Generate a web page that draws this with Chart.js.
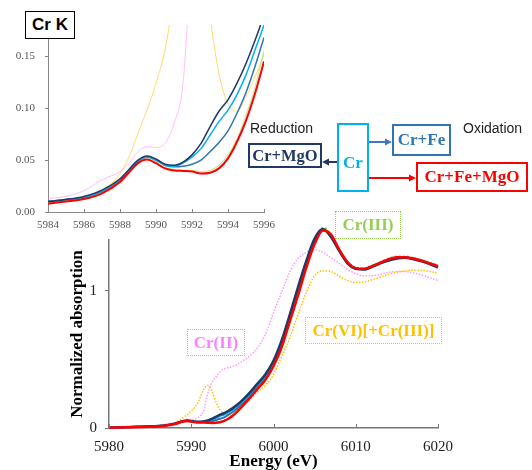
<!DOCTYPE html>
<html>
<head>
<meta charset="utf-8">
<script src="https://cdn.jsdelivr.net/npm/chart.js@4.4.1/dist/chart.umd.min.js"></script>
<style>
  body { margin: 0; width: 532px; height: 470px; position: relative; background: #fff; overflow: hidden; }
  canvas { position: absolute; left: 0; top: 0; }
  .box { position: absolute; box-sizing: border-box; display: flex; align-items: center; justify-content: center;
         font-family: "Liberation Serif", serif; font-weight: bold; font-size: 17px; background: transparent; white-space: nowrap; }
  .txt { position: absolute; font-family: "Liberation Sans", Arial, sans-serif; font-size: 14px; color: #222; }
</style>
</head>
<body>
<canvas id="main" width="532" height="470"></canvas>
<canvas id="inset" width="290" height="236"></canvas>

<svg width="532" height="470" style="position:absolute;left:0;top:0">
  <line x1="337" y1="162" x2="328" y2="162" stroke="#203864" stroke-width="2"/>
  <polygon points="322,162 329,158.5 329,165.5" fill="#203864"/>
  <line x1="369" y1="142" x2="386" y2="142" stroke="#4472c4" stroke-width="2"/>
  <polygon points="392,142 385,138.5 385,145.5" fill="#4472c4"/>
  <line x1="369" y1="178" x2="410" y2="178" stroke="#ff0000" stroke-width="2"/>
  <polygon points="416,178 409,174.5 409,181.5" fill="#ff0000"/>
</svg>

<div class="box" style="left:25px;top:11px;width:50px;height:28px;border:1.5px solid #000;background:#fff;font-family:'Liberation Sans',Arial,sans-serif;font-size:17px;">Cr K</div>
<div class="txt" style="left:250px;top:120px;">Reduction</div>
<div class="txt" style="left:463px;top:120px;">Oxidation</div>
<div class="box" style="left:248px;top:143px;width:74px;height:25px;border:2px solid #203864;color:#203864;font-size:16.5px;">Cr+MgO</div>
<div class="box" style="left:337px;top:123px;width:32px;height:69px;border:2px solid #00b0f0;color:#00b0f0;padding-top:10px;">Cr</div>
<div class="box" style="left:392px;top:124px;width:59px;height:32px;border:2px solid #2e75b6;color:#2e75b6;">Cr+Fe</div>
<div class="box" style="left:416px;top:162px;width:112px;height:30px;border:2px solid #ff0000;color:#ff0000;">Cr+Fe+MgO</div>
<div class="box" style="left:335px;top:211px;width:66px;height:28px;border:1.5px dotted #92d050;color:#92d050;">Cr(III)</div>
<div class="box" style="left:305px;top:317px;width:137px;height:27px;border:1.5px dotted #ffc000;color:#ffc000;">Cr(VI)[+Cr(III)]</div>
<div class="box" style="left:187px;top:329px;width:58px;height:27px;border:1.5px dotted #ff88ff;color:#ff80ff;">Cr(II)</div>

<script>
// energia (eV)
const energy = [5980, 5982, 5984, 5985, 5986, 5987, 5988, 5988.5, 5989, 5989.5, 5990, 5990.5, 5991, 5991.5,
  5992, 5992.5, 5993, 5993.5, 5994, 5994.5, 5995, 5995.5, 5996, 5997, 5998, 5999, 6000, 6001, 6002, 6003,
  6004, 6005, 6006, 6007, 6008, 6009, 6010, 6011, 6012, 6013, 6014, 6015, 6016, 6017, 6018, 6019, 6020];

const crMgO = [0.003, 0.006, 0.010, 0.012, 0.015, 0.021, 0.032, 0.041, 0.050, 0.054, 0.051, 0.046, 0.045, 0.048,
  0.055, 0.066, 0.082, 0.097, 0.108, 0.124, 0.143, 0.165, 0.19, 0.25, 0.32, 0.39, 0.49, 0.64, 0.83, 1.03,
  1.22, 1.38, 1.45, 1.39, 1.29, 1.2, 1.16, 1.155, 1.175, 1.2, 1.22, 1.235, 1.24, 1.23, 1.215, 1.195, 1.17];
const cr = [0.003, 0.006, 0.010, 0.012, 0.014, 0.020, 0.031, 0.040, 0.049, 0.053, 0.050, 0.045, 0.044, 0.047,
  0.053, 0.061, 0.074, 0.087, 0.098, 0.113, 0.132, 0.156, 0.18, 0.235, 0.305, 0.375, 0.475, 0.625, 0.82, 1.02,
  1.21, 1.375, 1.45, 1.395, 1.29, 1.2, 1.16, 1.157, 1.178, 1.203, 1.225, 1.238, 1.242, 1.233, 1.218, 1.198, 1.173];
const crFe = [0.003, 0.006, 0.010, 0.012, 0.014, 0.020, 0.031, 0.040, 0.049, 0.053, 0.050, 0.045, 0.0435, 0.044,
  0.046, 0.050, 0.058, 0.067, 0.078, 0.095, 0.115, 0.14, 0.168, 0.225, 0.295, 0.365, 0.465, 0.61, 0.8, 1.0,
  1.19, 1.36, 1.445, 1.4, 1.295, 1.205, 1.163, 1.158, 1.18, 1.205, 1.228, 1.242, 1.244, 1.235, 1.22, 1.2, 1.176];
const crFeMgO = [0.002, 0.005, 0.008, 0.010, 0.0125, 0.018, 0.029, 0.038, 0.047, 0.0505, 0.047, 0.042, 0.040, 0.0395,
  0.039, 0.037, 0.0378, 0.042, 0.0516, 0.0676, 0.088, 0.114, 0.145, 0.21, 0.28, 0.35, 0.45, 0.59, 0.78, 0.97,
  1.17, 1.34, 1.44, 1.41, 1.3, 1.21, 1.165, 1.16, 1.18, 1.205, 1.23, 1.245, 1.245, 1.235, 1.22, 1.2, 1.18];
const cr3 = [0.003, 0.006, 0.009, 0.011, 0.013, 0.019, 0.030, 0.039, 0.048, 0.052, 0.048, 0.043, 0.041, 0.040,
  0.040, 0.039, 0.040, 0.045, 0.055, 0.070, 0.093, 0.12, 0.155, 0.22, 0.29, 0.36, 0.46, 0.6, 0.79, 0.99,
  1.18, 1.36, 1.46, 1.41, 1.3, 1.21, 1.17, 1.165, 1.185, 1.21, 1.235, 1.25, 1.25, 1.24, 1.225, 1.205, 1.185];
const cr2 = [0.006, 0.010, 0.013, 0.015, 0.0205, 0.031, 0.039, 0.047, 0.058, 0.063, 0.062, 0.066, 0.085, 0.124,
  0.25, 0.33, 0.37, 0.41, 0.43, 0.44, 0.447, 0.46, 0.48, 0.52, 0.58, 0.68, 0.84, 0.99, 1.14, 1.235,
  1.28, 1.3, 1.28, 1.24, 1.2, 1.155, 1.125, 1.11, 1.11, 1.12, 1.135, 1.14, 1.14, 1.13, 1.115, 1.095, 1.075];
const cr6 = [0.004, 0.006, 0.009, 0.011, 0.014, 0.020, 0.037, 0.053, 0.076, 0.098, 0.124, 0.156, 0.21, 0.28,
  0.31, 0.27, 0.19, 0.133, 0.104, 0.097, 0.111, 0.13, 0.152, 0.2, 0.26, 0.31, 0.39, 0.52, 0.66, 0.83,
  0.99, 1.11, 1.145, 1.14, 1.105, 1.075, 1.06, 1.065, 1.08, 1.1, 1.12, 1.135, 1.145, 1.15, 1.15, 1.14, 1.13];

const mainTicks = [5980, 5990, 6000, 6010, 6020];
const insetTicks = [5984, 5986, 5988, 5990, 5992, 5994, 5996];

const pts = ys => energy.map((e, i) => ({ x: e, y: ys[i] }));
const serif = "'Liberation Serif', 'Times New Roman', serif";

// tracinhos do eixo x para dentro
function innerTicks(len, color) {
  return {
    id: 'innerTicks',
    afterDraw(chart) {
      const xs = chart.scales.x, ctx = chart.ctx;
      ctx.save();
      ctx.strokeStyle = color;
      ctx.lineWidth = 1;
      xs.ticks.forEach(t => {
        const px = Math.round(xs.getPixelForValue(t.value)) + 0.5;
        ctx.beginPath();
        ctx.moveTo(px, xs.top);
        ctx.lineTo(px, xs.top - len);
        ctx.stroke();
      });
      ctx.restore();
    }
  };
}

if (typeof Chart !== 'undefined') {
  Chart.defaults.font.family = serif;

  const line = (ys, color, width, dash) => ({
    data: pts(ys), borderColor: color, borderWidth: width, borderDash: dash || [],
    pointRadius: 0, cubicInterpolationMode: 'monotone', fill: false
  });

  // Gráfico principal
  const mainSets = [
    line(crFeMgO, '#ff0000', 2.5),
    line(crMgO, '#203864', 2.5),
    line(cr, '#00b0f0', 2),
    line(crFe, '#2e75b6', 2),
    line(cr3, '#92d050', 2, [2, 2]),
    line(cr6, '#ffc000', 1.5, [1.5, 1.5]),
    line(cr2, '#ff99ff', 1.5, [1.5, 1.5])
  ].map(d => Object.assign(d, { clip: false }));

  new Chart(document.getElementById('main').getContext('2d'), {
    type: 'line',
    data: { datasets: mainSets },
    options: {
      responsive: false,
      animation: false,
      layout: { padding: { left: 69, right: 94, top: 240, bottom: 0 } },
      plugins: { legend: { display: false }, tooltip: { enabled: false } },
      scales: {
        x: {
          type: 'linear', min: 5980, max: 6020,
          afterFit: s => { s.height = 42; },
          afterBuildTicks: s => { s.ticks = mainTicks.map(v => ({ value: v })); },
          grid: { display: true, drawOnChartArea: false, drawTicks: false },
          border: { color: '#777', width: 1.5 },
          ticks: { color: '#222', font: { family: serif, size: 15 }, padding: 10, maxRotation: 0,
                   callback: v => String(v) },
          title: { display: true, text: 'Energy (eV)', color: '#000',
                   font: { family: serif, size: 17, weight: 'bold', lineHeight: 1 }, padding: 0 }
        },
        y: {
          min: 0, max: 1.37,
          afterFit: s => { s.width = 40; },
          grid: { drawOnChartArea: false, tickLength: 4, color: '#777' },
          border: { color: '#777', width: 1.5 },
          ticks: { stepSize: 1, includeBounds: false, color: '#222', font: { family: serif, size: 15 }, padding: 8,
                   callback: v => String(v) },
          title: { display: true, text: 'Normalized absorption', color: '#000',
                   font: { family: serif, size: 17, weight: 'bold', lineHeight: 1 }, padding: 0 }
        }
      }
    },
    plugins: [innerTicks(4, '#777')]
  });

  // Gráfico de detalhe (pré-borda)
  const insetSets = [
    line(crFeMgO, '#ff0000', 2),
    line(crMgO, '#203864', 1.5),
    line(cr, '#00b0f0', 1.5),
    line(crFe, '#2e75b6', 1.5),
    line(cr3, 'rgba(146,208,80,0.5)', 1.2),
    line(cr6, 'rgba(255,192,0,0.55)', 1),
    line(cr2, 'rgba(255,140,255,0.55)', 1)
  ];

  new Chart(document.getElementById('inset').getContext('2d'), {
    type: 'line',
    data: { datasets: insetSets },
    options: {
      responsive: false,
      animation: false,
      layout: { padding: { left: 0, right: 26, top: 25, bottom: 0 } },
      plugins: { legend: { display: false }, tooltip: { enabled: false } },
      scales: {
        x: {
          type: 'linear', min: 5984, max: 5996,
          afterFit: s => { s.height = 24; },
          afterBuildTicks: s => { s.ticks = insetTicks.map(v => ({ value: v })); },
          grid: { drawOnChartArea: false, drawTicks: false },
          border: { color: '#888', width: 1 },
          ticks: { color: '#555', font: { family: serif, size: 11 }, padding: 7, maxRotation: 0,
                   callback: v => String(v) }
        },
        y: {
          min: 0, max: 0.18,
          afterFit: s => { s.width = 48; },
          grid: { drawOnChartArea: false, tickLength: 3, color: '#888' },
          border: { color: '#888', width: 1 },
          ticks: { stepSize: 0.05, includeBounds: false, color: '#555', font: { family: serif, size: 11 }, padding: 10,
                   callback: v => v.toFixed(2) }
        }
      }
    },
    plugins: [innerTicks(3, '#888')]
  });
} else {
  console.error('Chart.js não encontrado.');
}
</script>
</body>
</html>
